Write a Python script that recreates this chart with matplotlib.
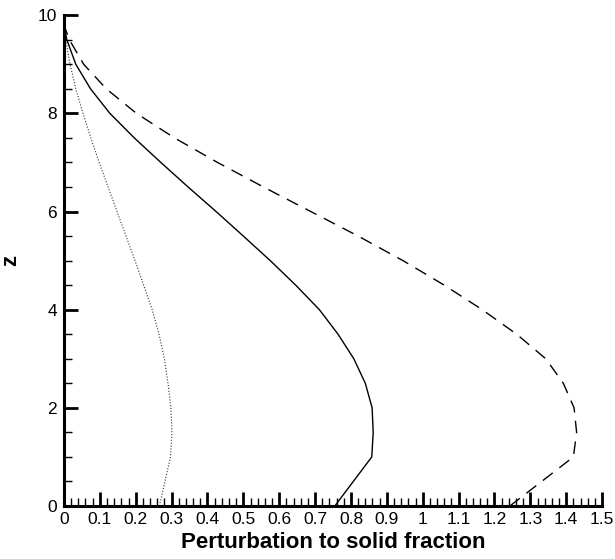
import matplotlib
matplotlib.use("Agg")
import matplotlib.pyplot as plt
from matplotlib.ticker import MultipleLocator, FormatStrFormatter

plt.rcParams['font.family'] = ['Liberation Sans', 'DejaVu Sans']

# Depth levels and the perturbation profiles for the three cases
z_levels = [0.0, 1.0, 1.5, 2.0, 2.5, 3.0, 3.5, 4.0, 4.5, 5.0,
            5.5, 6.0, 6.5, 7.0, 7.5, 8.0, 8.5, 9.0, 9.5, 9.8]
phi_dotted = [0.266, 0.297, 0.301, 0.298, 0.290, 0.280, 0.265, 0.246, 0.222, 0.198,
              0.173, 0.148, 0.123, 0.098, 0.075, 0.053, 0.033, 0.017, 0.005, 0.0]
phi_solid = [0.755, 0.858, 0.862, 0.859, 0.840, 0.808, 0.764, 0.712, 0.646, 0.575,
             0.500, 0.424, 0.346, 0.270, 0.196, 0.128, 0.074, 0.033, 0.008, 0.0]
phi_dashed = [1.243, 1.420, 1.429, 1.422, 1.392, 1.343, 1.262, 1.166, 1.060, 0.945,
              0.820, 0.688, 0.556, 0.428, 0.308, 0.202, 0.118, 0.055, 0.015, 0.0]

fig = plt.figure(figsize=(6.15, 5.59), dpi=100)
ax = fig.add_axes([0.104, 0.0948, 0.875, 0.878])

ax.plot(phi_dotted, z_levels, color='#333333', lw=0.8, linestyle=(0, (1, 1.6)))
ax.plot(phi_solid, z_levels, color='black', lw=1.0)
ax.plot(phi_dashed, z_levels, color='black', lw=1.0, linestyle=(0, (9, 6)))

ax.set_xlim(0, 1.5)
ax.set_ylim(0, 10)

# only left and bottom axes, heavy lines
ax.spines['top'].set_visible(False)
ax.spines['right'].set_visible(False)
ax.spines['left'].set_linewidth(2.2)
ax.spines['bottom'].set_linewidth(2.2)

ax.xaxis.set_major_locator(MultipleLocator(0.1))
ax.xaxis.set_minor_locator(MultipleLocator(0.02))
ax.yaxis.set_major_locator(MultipleLocator(2))
ax.yaxis.set_minor_locator(MultipleLocator(0.5))
ax.xaxis.set_major_formatter(FormatStrFormatter('%g'))
ax.yaxis.set_major_formatter(FormatStrFormatter('%g'))

ax.tick_params(which='major', direction='in', length=10, width=2, labelsize=12.5,
               top=False, right=False)
ax.tick_params(which='minor', direction='in', length=6, width=1,
               top=False, right=False)
ax.tick_params(axis='x', which='major', pad=4)
ax.tick_params(axis='y', which='major', pad=5)

ax.set_xlabel('Perturbation to solid fraction', fontsize=16, fontweight='bold', labelpad=4)
ax.set_ylabel('z', fontsize=16, fontweight='bold')
ax.yaxis.set_label_coords(-0.08, 0.5)

fig.savefig('out.png', dpi=100)
